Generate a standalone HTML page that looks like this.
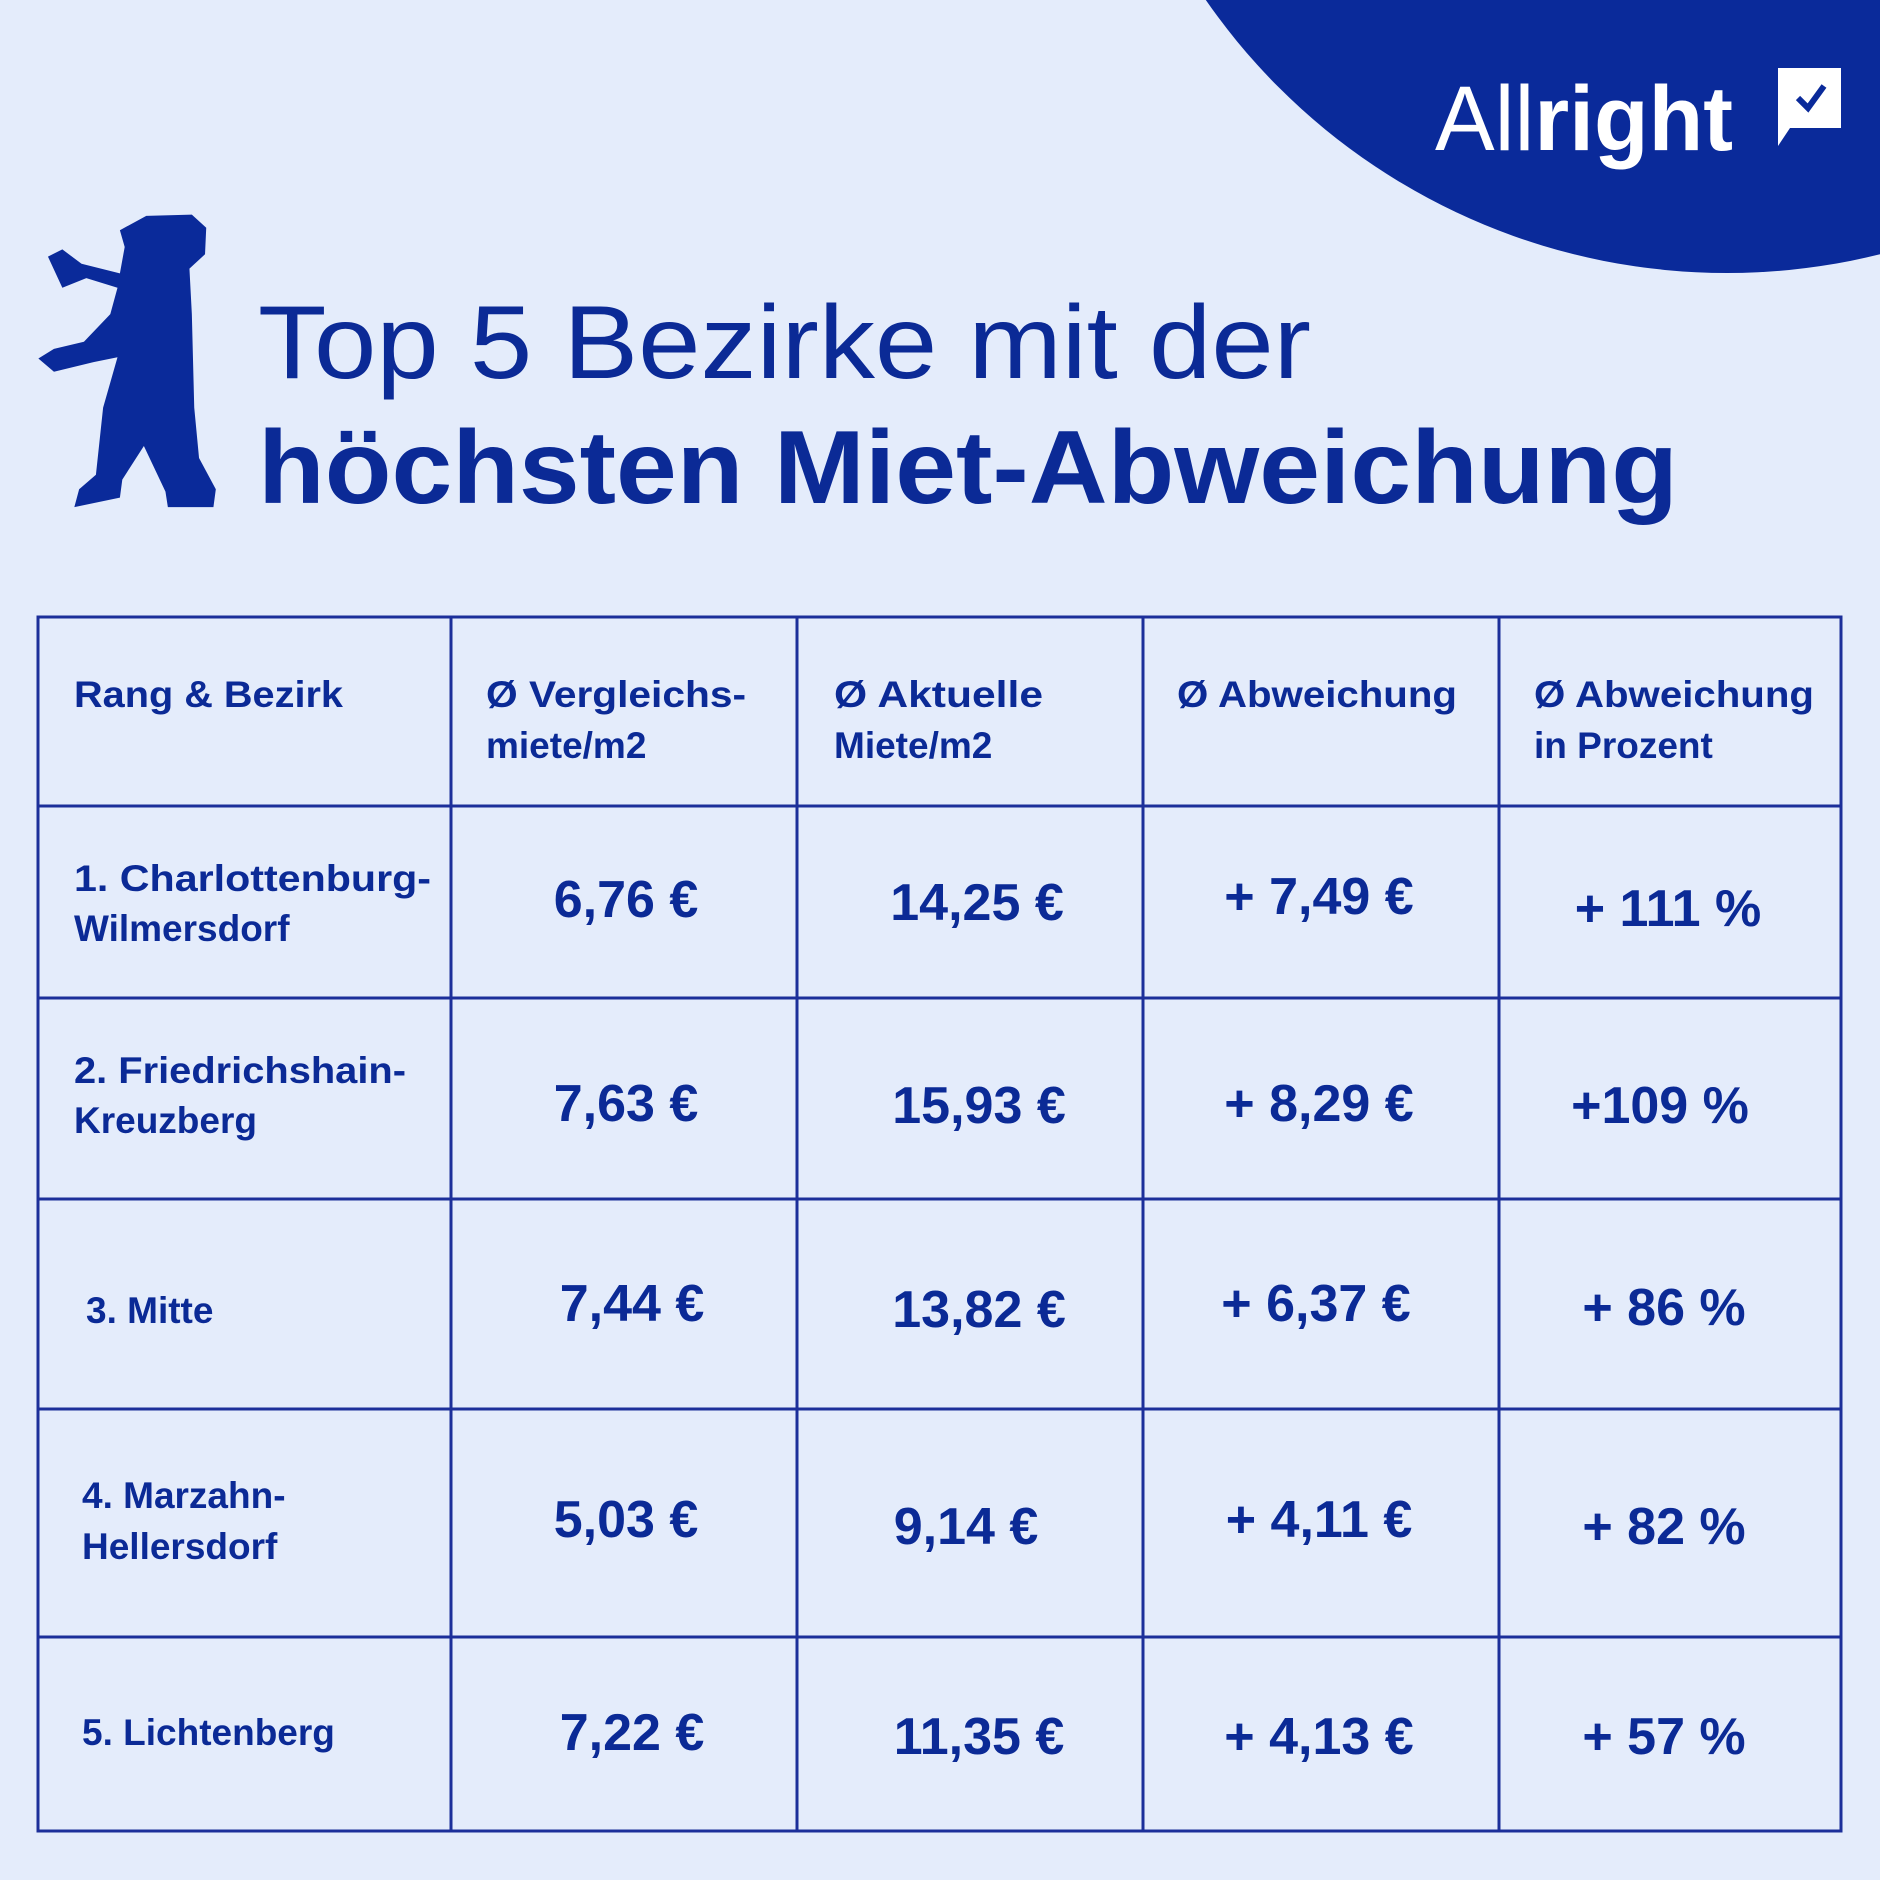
<!DOCTYPE html>
<html><head><meta charset="utf-8"><style>
html,body{margin:0;padding:0;background:#e4ecfb;}
svg{display:block}
text{font-family:"Liberation Sans",sans-serif;fill:#0b2a96;}
.b{font-weight:bold}
</style></head><body>
<svg width="1880" height="1880" viewBox="0 0 1880 1880" xmlns="http://www.w3.org/2000/svg">
<rect width="1880" height="1880" fill="#e4ecfb"/>
<circle cx="1727" cy="-361" r="634" fill="#0a2a9a"/>
<text x="1435" y="150" font-size="92" style="fill:#fff" textLength="298" lengthAdjust="spacingAndGlyphs"><tspan>All</tspan><tspan font-weight="bold">right</tspan></text>
<path d="M1778 68 H1841 V128 H1790 L1778 146 Z" fill="#fff"/>
<path d="M1798 98 L1808 108 L1824 86" stroke="#0a2a9a" stroke-width="6" fill="none"/>
<g transform="scale(1.199)" fill="#0a2a9a">
<path d="M100,192 L122,180 L160,179 L172,190 L171,212 L158,224 L160,262 L162,340 L166,382 L180,408 L178,423 L140,423 L138,410 L120,372 L102,400 L100,415 L62,423 L66,408 L80,396 L86,340 L98,298 L78,302 L45,310 L32,299 L45,291 L70,285 L92,262 L98,240 L72,232 L52,240 L40,214 L52,208 L68,220 L100,228 L104,206 Z"/>
</g>
<text x="258" y="378" font-size="104" textLength="1053" lengthAdjust="spacingAndGlyphs">Top 5 Bezirke mit der</text>
<text x="258" y="503" font-size="104" class="b" textLength="1420" lengthAdjust="spacingAndGlyphs">höchsten Miet-Abweichung</text>
<g stroke="#1c2f9a" stroke-width="3" fill="none">
<rect x="38" y="617" width="1803" height="1214"/>
<line x1="451" y1="617" x2="451" y2="1831"/>
<line x1="797" y1="617" x2="797" y2="1831"/>
<line x1="1143" y1="617" x2="1143" y2="1831"/>
<line x1="1499" y1="617" x2="1499" y2="1831"/>
<line x1="38" y1="806" x2="1841" y2="806"/>
<line x1="38" y1="998" x2="1841" y2="998"/>
<line x1="38" y1="1199" x2="1841" y2="1199"/>
<line x1="38" y1="1409" x2="1841" y2="1409"/>
<line x1="38" y1="1637" x2="1841" y2="1637"/>
</g>
<g class="b" font-size="37" font-weight="bold">
<text x="74" y="707" textLength="269" lengthAdjust="spacingAndGlyphs">Rang &amp; Bezirk</text>
<text x="486" y="707" textLength="260" lengthAdjust="spacingAndGlyphs">Ø Vergleichs-</text>
<text x="486" y="758">miete/m2</text>
<text x="834" y="707" textLength="209" lengthAdjust="spacingAndGlyphs">Ø Aktuelle</text>
<text x="834" y="758">Miete/m2</text>
<text x="1177" y="707" textLength="280" lengthAdjust="spacingAndGlyphs">Ø Abweichung</text>
<text x="1534" y="707" textLength="280" lengthAdjust="spacingAndGlyphs">Ø Abweichung</text>
<text x="1534" y="758">in Prozent</text>
<text x="74" y="891" textLength="357" lengthAdjust="spacingAndGlyphs">1. Charlottenburg-</text>
<text x="74" y="941">Wilmersdorf</text>
<text x="74" y="1083" textLength="332" lengthAdjust="spacingAndGlyphs">2. Friedrichshain-</text>
<text x="74" y="1133">Kreuzberg</text>
<text x="86" y="1323">3. Mitte</text>
<text x="82" y="1508">4. Marzahn-</text>
<text x="82" y="1559">Hellersdorf</text>
<text x="82" y="1745">5. Lichtenberg</text>
</g>
<g font-size="52" font-weight="bold" text-anchor="middle">
<text x="626" y="917">6,76 €</text>
<text x="977" y="920">14,25 €</text>
<text x="1319" y="914">+ 7,49 €</text>
<text x="1668" y="926">+ 111 %</text>
<text x="626" y="1121">7,63 €</text>
<text x="979" y="1123">15,93 €</text>
<text x="1319" y="1121">+ 8,29 €</text>
<text x="1660" y="1123">+109 %</text>
<text x="632" y="1321">7,44 €</text>
<text x="979" y="1327">13,82 €</text>
<text x="1316" y="1321">+ 6,37 €</text>
<text x="1664" y="1325">+ 86 %</text>
<text x="626" y="1537">5,03 €</text>
<text x="966" y="1544">9,14 €</text>
<text x="1319" y="1537">+ 4,11 €</text>
<text x="1664" y="1544">+ 82 %</text>
<text x="632" y="1750">7,22 €</text>
<text x="979" y="1754">11,35 €</text>
<text x="1319" y="1754">+ 4,13 €</text>
<text x="1664" y="1754">+ 57 %</text>
</g>
</svg>
</body></html>
